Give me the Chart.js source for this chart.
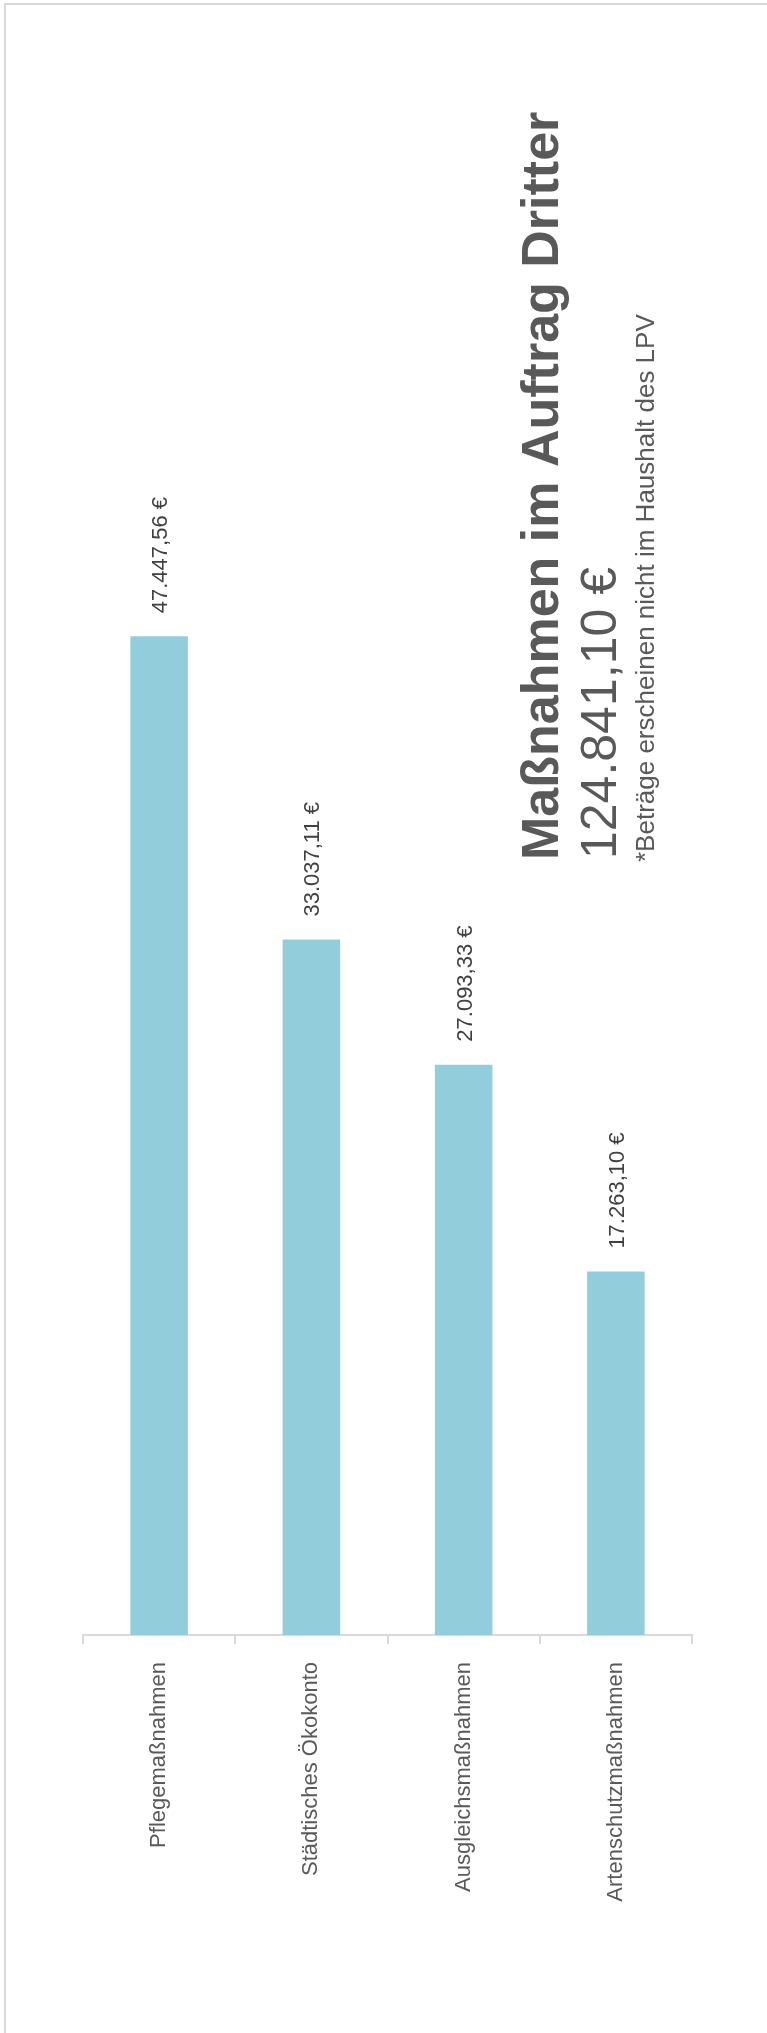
<!DOCTYPE html>
<html>
<head>
<meta charset="utf-8">
<script src="https://cdn.jsdelivr.net/npm/chart.js@4.4.1/dist/chart.umd.min.js"></script>
<style>
  html, body { margin: 0; padding: 0; background: #fff; overflow: hidden; }
  #frame {
    position: absolute; left: 4px; top: 3px; width: 900px; height: 2200px;
    border-top: 2px solid #d9d9d9; border-left: 2px solid #d9d9d9;
  }
  #wrap { position: absolute; left: 0; top: 0; width: 767px; height: 2033px; }
</style>
</head>
<body>
<div id="frame"></div>
<div id="wrap"><canvas id="chart_dritter" width="767" height="2033"></canvas></div>
<script>
const categories = [
    'Pflegemaßnahmen',
    'Städtisches Ökokonto',
    'Ausgleichsmaßnahmen',
    'Artenschutzmaßnahmen',
];
const amounts = [47447.56, 33037.11, 27093.33, 17263.10];
const titleText = 'Maßnahmen im Auftrag Dritter';
const noteText = '*Beträge erscheinen nicht im Haushalt des LPV';

const FONT = "'Liberation Sans', Arial, sans-serif";

// german number format, e.g. 47.447,56 €
function euro(v) {
    const parts = v.toFixed(2).split('.');
    const int = parts[0].replace(/\B(?=(\d{3})+(?!\d))/g, '.');
    return int + ',' + parts[1] + ' €';
}

const total = amounts.reduce((a, b) => a + b, 0);

const valueLabels = {
    id: 'valueLabels',
    afterDatasetsDraw(chart) {
        const ctx = chart.ctx;
        const meta = chart.getDatasetMeta(0);
        ctx.save();
        ctx.fillStyle = '#404040';
        ctx.font = '22px ' + FONT;
        ctx.textAlign = 'left';
        ctx.textBaseline = 'middle';
        meta.data.forEach((bar, i) => {
            ctx.save();
            ctx.translate(bar.x + 2, bar.y - 23);
            ctx.rotate(-Math.PI / 2);
            ctx.fillText(euro(amounts[i]), 0, 0);
            ctx.restore();
        });
        ctx.restore();
    }
};

const sideTitle = {
    id: 'sideTitle',
    afterDraw(chart) {
        const ctx = chart.ctx;
        const lines = [
            { text: titleText, font: 'bold 52px ' + FONT, x: 558, y: 860 },
            { text: euro(total), font: '50px ' + FONT, x: 616, y: 859 },
            { text: noteText, font: '26px ' + FONT, x: 654, y: 862 },
        ];
        ctx.save();
        ctx.fillStyle = '#595959';
        ctx.textAlign = 'left';
        ctx.textBaseline = 'alphabetic';
        lines.forEach(l => {
            ctx.save();
            ctx.font = l.font;
            ctx.translate(l.x, l.y);
            ctx.rotate(-Math.PI / 2);
            ctx.fillText(l.text, 0, 0);
            ctx.restore();
        });
        ctx.restore();
    }
};

const chart_dritter = new Chart(document.getElementById('chart_dritter'), {
    type: 'bar',
    data: {
        labels: categories,
        datasets: [{
            data: amounts,
            backgroundColor: '#92cddc',
            borderWidth: 0,
            barPercentage: 0.378,
            categoryPercentage: 1,
        }]
    },
    options: {
        responsive: false,
        animation: false,
        layout: {
            padding: { top: 372, left: 83, right: 75, bottom: 0 }
        },
        scales: {
            y: {
                display: false,
                min: 0,
                max: 60000,
            },
            x: {
                grid: {
                    display: true,
                    drawOnChartArea: false,
                    drawTicks: true,
                    tickLength: 9,
                    color: '#d9d9d9',
                    lineWidth: 2,
                },
                border: { display: true, color: '#d9d9d9', width: 2 },
                ticks: {
                    autoSkip: false,
                    minRotation: 90,
                    maxRotation: 90,
                    padding: 18,
                    color: '#595959',
                    font: { family: FONT, size: 22 },
                },
                afterFit(scale) {
                    scale.height = 398;
                }
            }
        },
        plugins: {
            legend: { display: false },
            tooltip: { enabled: false },
            title: { display: false },
        }
    },
    plugins: [valueLabels, sideTitle],
});
</script>
</body>
</html>
